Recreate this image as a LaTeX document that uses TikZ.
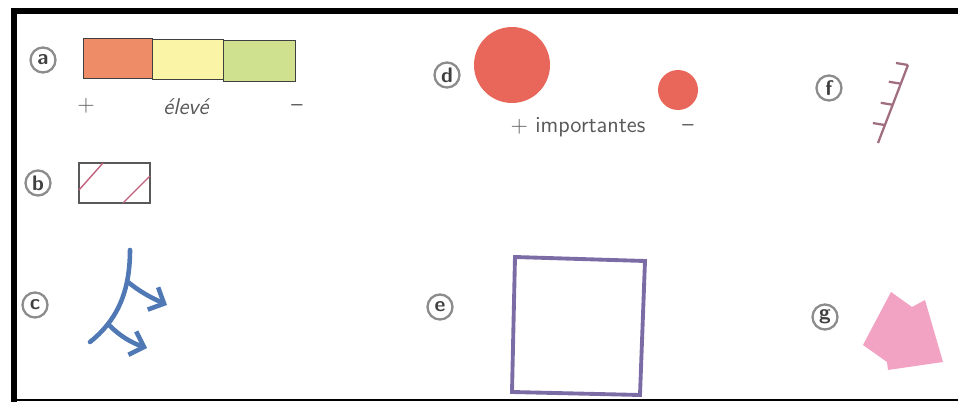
\documentclass[tikz,border=0pt]{standalone}
\usepackage{tikz}
\usetikzlibrary{arrows.meta,calc}

\definecolor{rougeO}{HTML}{EE8C68}
\definecolor{jauneP}{HTML}{FAF4A6}
\definecolor{vertP}{HTML}{CFE08E}
\definecolor{rougeD}{HTML}{E8665A}
\definecolor{bleuC}{HTML}{4F78B4}
\definecolor{violetE}{HTML}{7C6CA6}
\definecolor{mauveF}{HTML}{A06E80}
\definecolor{roseG}{HTML}{F2A2C2}
\definecolor{roseB}{HTML}{C0607A}

\begin{document}
\begin{tikzpicture}[x=0.02cm,y=-0.02cm,>=Stealth,
    lettre/.style={circle,draw=gray!90,line width=1.3pt,minimum size=0.5cm,inner sep=0pt,
      text=gray!50!black,font=\sffamily\bfseries\fontsize{12}{12}\selectfont},
    legende/.style={text=gray!70!black,font=\sffamily\fontsize{13}{15}\selectfont}]
        \useasboundingbox (0,0) rectangle (958,402);
        % cadre
        \draw [line width=3.4pt] (12,11) -- (958,11);
        \draw [line width=3.4pt] (14,8) -- (14,402);
        \draw [line width=1.2pt] (14,400) -- (958,400);
        % lettres
        \node [lettre] (a) at (43,60) {a};
        \node [lettre] (b) at (38,183) {b};
        \node [lettre] (c) at (35,305) {c};
        \node [lettre] (d) at (447,75) {d};
        \node [lettre] (e) at (440,307) {e};
        \node [lettre] (f) at (829,88) {f};
        \node [lettre] (g) at (825,317) {g};
        % a : barre de couleurs
        \draw [gray!50!black,fill=rougeO] (83,38) rectangle (152,78);
        \draw [gray!50!black,fill=jauneP] (152,39) rectangle (223,79);
        \draw [gray!50!black,fill=vertP] (223,40) rectangle (295,81);
        \node [legende] (aplus) at (86,106) {+};
        \node [legende,font=\sffamily\itshape\fontsize{13}{15}\selectfont] (aeleve) at (186,107) {élevé};
        \node [legende] (amoins) at (297,108) {--};
        % b : rectangle hachuré
        \draw [gray!70!black,line width=0.8pt] (79,163) rectangle (150,203);
        \draw [roseB,line width=0.8pt] (79,190) -- (103,163);
        \draw [roseB,line width=0.8pt] (123,203) -- (150,176);
        % c : ramification
        \draw [bleuC,line width=2.6pt,line cap=round] (130,250) .. controls (130,295) and (115,322) .. (90,342);
        \draw [bleuC,line width=2.6pt,line cap=round,-{Straight Barb[length=7pt,width=14pt]}]
            (128,282) .. controls (140,292) and (152,298) .. (167,305);
        \draw [bleuC,line width=2.6pt,line cap=round,-{Straight Barb[length=7pt,width=14pt]}]
            (110,326) .. controls (120,336) and (132,343) .. (147,348);
        % d : cercles
        \fill [rougeD] (512,65) circle (38);
        \fill [rougeD] (678,90) circle (20);
        \node [legende] (dtexte) at (578,127) {+ importantes};
        \node [legende] (dmoins) at (688,128) {--};
        % e : carré
        \draw [violetE,line width=2.2pt] (515,257) -- (645,261) -- (640,395) -- (512,392) -- cycle;
        % f : talus
        \coordinate (fbas) at (878,143);
        \coordinate (fhaut) at (908,65);
        \draw [mauveF,line width=1.3pt] (fbas) -- (fhaut);
        \foreach \t in {0.23,0.49,0.76,1}
            \draw [mauveF,line width=1.3pt] ($(fbas)!\t!(fhaut)$) -- ++(-12,-2);
        % g : forme rose
        \fill [roseG] (863,345) -- (891,292) -- (912,307) -- (925,300) -- (943,362)
            -- (888,370) -- (887,362) -- cycle;
\end{tikzpicture}
\end{document}
